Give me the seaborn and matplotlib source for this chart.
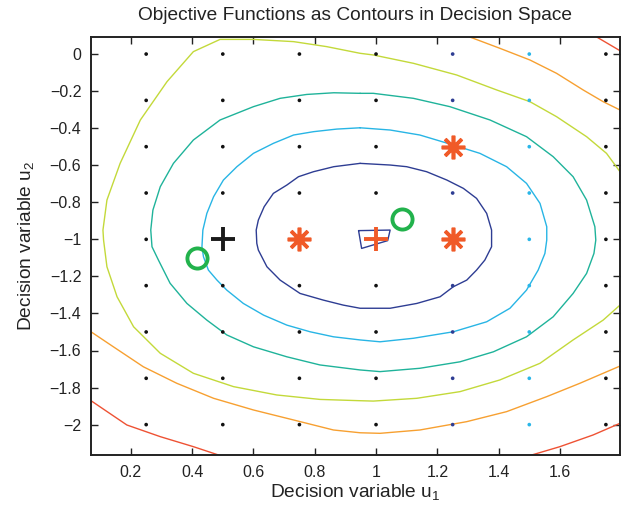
import numpy as np
import pandas as pd
import matplotlib
matplotlib.use("Agg")
import matplotlib.pyplot as plt
import seaborn as sns

# ---------------- data ----------------
title = "Objective Functions as Contours in Decision Space"
xlabel = "Decision variable u$_1$"
ylabel = "Decision variable u$_2$"
xticks = [0.2, 0.4, 0.6, 0.8, 1.0, 1.2, 1.4, 1.6]
xticklabels = ["0.2", "0.4", "0.6", "0.8", "1", "1.2", "1.4", "1.6"]
yticks = [0, -0.2, -0.4, -0.6, -0.8, -1, -1.2, -1.4, -1.6, -1.8, -2]
yticklabels = ["0", "\u22120.2", "\u22120.4", "\u22120.6", "\u22120.8", "\u22121",
               "\u22121.2", "\u22121.4", "\u22121.6", "\u22121.8", "\u22122"]
xlim = (0.07, 1.796)
ylim = (-2.164, 0.092)

# grid of sample points
grid_u1 = [0.25, 0.5, 0.75, 1.0, 1.25, 1.5, 1.75]
grid_u2 = [0, -0.25, -0.5, -0.75, -1.0, -1.25, -1.5, -1.75, -2.0]
grid_colcolor = ["k", "k", "k", "k", "blue", "cyan", "k"]

# contour lines (u1, u2)
level1_u1 = [0.948, 0.862, 0.796, 0.747, 0.709, 0.665, 0.635, 0.616, 0.609, 0.611, 0.616, 0.644, 0.687,
             0.752, 0.828, 0.893, 0.948, 1.046, 1.133, 1.209, 1.252, 1.296, 1.328, 1.355, 1.377, 1.377,
             1.361, 1.328, 1.285, 1.231, 1.165, 1.100, 1.046, 0.948]
level1_u2 = [-0.590, -0.608, -0.635, -0.662, -0.707, -0.752, -0.824, -0.896, -0.950, -1.022, -1.058,
             -1.148, -1.220, -1.292, -1.328, -1.355, -1.372, -1.372, -1.346, -1.310, -1.256, -1.220,
             -1.166, -1.112, -1.040, -0.950, -0.860, -0.779, -0.725, -0.680, -0.635, -0.608, -0.599, -0.590]
core_u1 = [0.943, 1.046, 1.038, 0.953, 0.943]
core_u2 = [-0.953, -0.950, -1.007, -1.049, -0.953]
level2_u1 = [0.948, 0.872, 0.796, 0.731, 0.665, 0.600, 0.546, 0.502, 0.470, 0.448, 0.435, 0.432, 0.437,
             0.453, 0.481, 0.513, 0.567, 0.633, 0.709, 0.785, 0.861, 0.948, 1.013, 1.122, 1.252, 1.361,
             1.437, 1.491, 1.529, 1.551, 1.557, 1.557, 1.535, 1.491, 1.426, 1.339, 1.252, 1.143, 1.046,
             0.948]
level2_u2 = [-0.398, -0.405, -0.419, -0.437, -0.482, -0.536, -0.608, -0.680, -0.770, -0.860, -0.950,
             -1.040, -1.094, -1.166, -1.220, -1.274, -1.346, -1.409, -1.463, -1.499, -1.526, -1.543,
             -1.553, -1.534, -1.499, -1.445, -1.372, -1.274, -1.166, -1.076, -1.004, -0.932, -0.806,
             -0.698, -0.608, -0.536, -0.491, -0.437, -0.410, -0.398]
level3_u1 = [0.948, 0.862, 0.774, 0.687, 0.600, 0.491, 0.404, 0.339, 0.296, 0.272, 0.265, 0.269, 0.290,
             0.328, 0.383, 0.448, 0.513, 0.600, 0.709, 0.817, 0.948, 1.013, 1.143, 1.274, 1.383, 1.491,
             1.578, 1.643, 1.687, 1.711, 1.717, 1.714, 1.687, 1.643, 1.578, 1.491, 1.372, 1.241, 1.122,
             0.991, 0.948]
level3_u2 = [-0.212, -0.209, -0.218, -0.239, -0.284, -0.356, -0.464, -0.590, -0.716, -0.842, -0.950,
             -1.040, -1.112, -1.237, -1.346, -1.436, -1.516, -1.580, -1.634, -1.678, -1.705, -1.714,
             -1.696, -1.661, -1.607, -1.526, -1.418, -1.292, -1.184, -1.076, -1.004, -0.932, -0.788,
             -0.662, -0.554, -0.446, -0.356, -0.284, -0.239, -0.212, -0.212]
level4_u1 = [1.796, 1.752, 1.687, 1.589, 1.502, 1.394, 1.263, 1.122, 0.991, 0.948, 0.839, 0.731, 0.600,
             0.491, 0.404, 0.318, 0.231, 0.165, 0.122, 0.109, 0.111, 0.122, 0.155, 0.209, 0.296, 0.404,
             0.535, 0.676, 0.817, 0.948, 0.991, 1.133, 1.274, 1.404, 1.535, 1.643, 1.741, 1.796]
level4_u2 = [-0.635, -0.536, -0.446, -0.338, -0.257, -0.194, -0.113, -0.050, -0.005, 0.004, 0.040, 0.067,
             0.079, 0.079, 0.013, -0.149, -0.356, -0.590, -0.788, -0.950, -1.004, -1.148, -1.310,
             -1.472, -1.615, -1.723, -1.795, -1.840, -1.864, -1.871, -1.873, -1.858, -1.822, -1.759,
             -1.669, -1.543, -1.436, -1.355]
level5a_u1 = [1.306, 1.404, 1.502, 1.589, 1.676, 1.741, 1.796]
level5a_u2 = [0.092, 0.031, -0.032, -0.104, -0.194, -0.257, -0.302]
level5b_u1 = [0.070, 0.143, 0.241, 0.350, 0.470, 0.600, 0.731, 0.861, 0.948, 1.013, 1.143, 1.296, 1.426,
              1.557, 1.665, 1.741, 1.796]
level5b_u2 = [-1.499, -1.580, -1.688, -1.777, -1.858, -1.921, -1.975, -2.029, -2.044, -2.047, -2.029,
              -1.984, -1.930, -1.849, -1.777, -1.723, -1.684]
level6a_u1 = [1.720, 1.796]
level6a_u2 = [0.092, 0.018]
level6b_u1 = [0.070, 0.187, 0.296, 0.404, 0.486]
level6b_u2 = [-1.871, -2.002, -2.065, -2.119, -2.164]
level6c_u1 = [1.508, 1.600, 1.708, 1.796]
level6c_u2 = [-2.164, -2.119, -2.056, -1.993]

# special points
star_u1 = [0.75, 1.25, 1.25]
star_u2 = [-1.0, -1.0, -0.5]
redplus_u1 = [1.0]
redplus_u2 = [-1.0]
blackplus_u1 = [0.5]
blackplus_u2 = [-1.0]
circle_u1 = [0.415, 1.084]
circle_u2 = [-1.099, -0.892]

# ---------------- styling ----------------
C_DBLUE = "#2e3d93"
C_CYAN = "#28b5e5"
C_TEAL = "#1fb39a"
C_YG = "#c3d93a"
C_ORANGE = "#f7a031"
C_RED = "#ee5234"
C_MARK = "#f05a28"
C_GREEN = "#22b24c"
dotcolors = {"k": "#111111", "blue": "#2e3d93", "cyan": "#29b6e8"}

sns.set_theme(style="white")
plt.rcParams["font.family"] = ["Liberation Sans", "DejaVu Sans"]
plt.rcParams["mathtext.default"] = "regular"

fig = plt.figure(figsize=(6.31, 5.15), dpi=100)
ax = fig.add_axes([91 / 631, 1 - 455 / 515, (620 - 91) / 631, (455 - 37) / 515])

contours = [
    (level1_u1, level1_u2, C_DBLUE),
    (core_u1, core_u2, C_DBLUE),
    (level2_u1, level2_u2, C_CYAN),
    (level3_u1, level3_u2, C_TEAL),
    (level4_u1, level4_u2, C_YG),
    (level5a_u1, level5a_u2, C_ORANGE),
    (level5b_u1, level5b_u2, C_ORANGE),
    (level6a_u1, level6a_u2, C_RED),
    (level6b_u1, level6b_u2, C_RED),
    (level6c_u1, level6c_u2, C_RED),
]
for xs, ys, col in contours:
    df = pd.DataFrame({"u1": xs, "u2": ys})
    sns.lineplot(data=df, x="u1", y="u2", sort=False, estimator=None, color=col,
                 linewidth=1.0, ax=ax)

# grid dots
gx, gy, gc = [], [], []
for u1, cc in zip(grid_u1, grid_colcolor):
    for u2 in grid_u2:
        gx.append(u1)
        gy.append(u2)
        gc.append(cc)
gdf = pd.DataFrame({"u1": gx, "u2": gy, "c": gc})
sns.scatterplot(data=gdf, x="u1", y="u2", hue="c", palette=dotcolors, s=7,
                linewidth=0, legend=False, ax=ax, zorder=3)

# markers
ax.plot(star_u1, star_u2, linestyle="none", marker=(8, 2, 0), markersize=17,
        markeredgewidth=2.6, color=C_MARK, zorder=5)
ax.plot(redplus_u1, redplus_u2, linestyle="none", marker="+", markersize=17,
        markeredgewidth=2.8, color=C_MARK, zorder=5)
ax.plot(blackplus_u1, blackplus_u2, linestyle="none", marker="+", markersize=17,
        markeredgewidth=2.8, color="#1a1a1a", zorder=5)
ax.plot(circle_u1, circle_u2, linestyle="none", marker="o", markersize=14.5,
        markeredgewidth=2.8, markerfacecolor="none", markeredgecolor=C_GREEN, zorder=5)

ax.set_xlim(*xlim)
ax.set_ylim(*ylim)
ax.set_xticks(xticks)
ax.set_xticklabels(xticklabels)
ax.set_yticks(yticks)
ax.set_yticklabels(yticklabels)
ax.tick_params(axis="both", which="both", direction="in", length=5, width=1.0,
               top=True, right=True, bottom=True, left=True, labelsize=11.5,
               colors="#222222", pad=7)
for sp in ax.spines.values():
    sp.set_visible(True)
    sp.set_color("#222222")
    sp.set_linewidth(1.4)

ax.set_xlabel(xlabel, fontsize=13.8, color="#222222", labelpad=2)
ax.set_ylabel(ylabel, fontsize=13.8, color="#222222", labelpad=10)
ax.set_title(title, fontsize=13.8, color="#222222", pad=12)

fig.savefig("out.png", dpi=100)
